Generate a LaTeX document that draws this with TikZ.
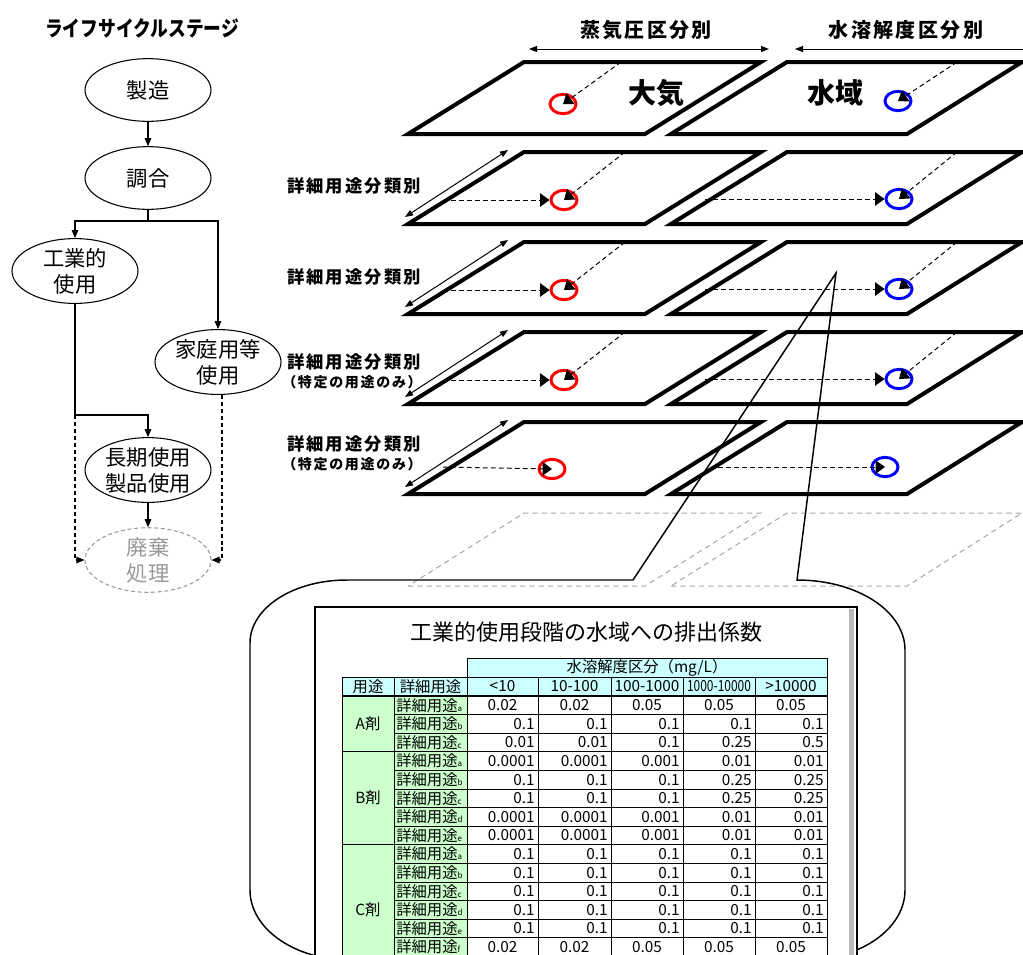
\documentclass[tikz,border=0pt]{standalone}
\usepackage{fontspec}
\setmainfont{Noto Sans CJK JP}
\newfontfamily\jpsp{Noto Sans CJK JP}[LetterSpace=12]
\usetikzlibrary{shapes.geometric,arrows.meta}
\definecolor{hdrc}{HTML}{CCFFFF}
\definecolor{grnc}{HTML}{CCFFCC}
\definecolor{ghostc}{HTML}{A6A6A6}
\definecolor{wastec}{HTML}{999999}
\newcommand\myfs[2]{\fontsize{#1}{#2}\selectfont}
\begin{document}
\begin{tikzpicture}[x=0.75pt,y=-0.75pt,
  stage/.style={ellipse, draw, line width=0.8pt, minimum width=94.5pt, minimum height=47pt, inner sep=0pt, align=center, font=\myfs{16}{19.5}},
  flow/.style={line width=0.8pt, -{Triangle[length=6pt,width=5pt]}},
  flowd/.style={flow, dash pattern=on 3pt off 2.2pt},
  plane/.style={line width=3pt, line join=miter},
  ghost/.style={draw=ghostc, line width=0.75pt, dash pattern=on 4pt off 3pt},
  ring/.style={ellipse, draw, line width=2.2pt, minimum width=19.5pt, minimum height=14.5pt, inner sep=0pt},
  darr/.style={line width=0.75pt, dash pattern=on 3.5pt off 2.5pt, -{Triangle[length=7pt,width=10pt]}},
  dbl/.style={line width=0.75pt, {Triangle[length=6pt,width=4.5pt]}-{Triangle[length=6pt,width=4.5pt]}},
  lbl/.style={font=\jpsp\bfseries\myfs{13}{15}, inner sep=0pt},
  sublbl/.style={font=\jpsp\bfseries\myfs{10.5}{12}, inner sep=0pt},
  big/.style={font=\bfseries\myfs{21}{24}, inner sep=0pt},
  head/.style={font=\jpsp\bfseries\myfs{15}{17}, inner sep=0pt},
  tline/.style={line width=0.75pt},
  tx/.style={font=\myfs{11.5}{13}, inner sep=0pt},
  callout/.style={line width=1.1pt, line join=miter}
]
\useasboundingbox (0,0) rectangle (1023,954);

% ---------------- life cycle flow ----------------
\node[font=\bfseries\myfs{16}{18}, inner sep=0pt] (ttl) at (142,28) {\scalebox{0.83}[1]{ライフサイクルステージ}};
\node[stage] (mfg) at (148,90) {製造};
\node[stage] (mix) at (148,178) {調合};
\node[stage] (ind) at (75,271) {工業的\\使用};
\node[stage] (home) at (218,362) {家庭用等\\使用};
\node[stage] (long) at (148,470) {長期使用\\製品使用};
\node[stage, draw=wastec, dash pattern=on 3pt off 2pt, text=wastec] (waste) at (148,560) {廃棄\\処理};

\coordinate (sp) at (148,221);
\coordinate (kink) at (75,415);
\draw[flow] (mfg) -- (mix);
\draw[line width=0.8pt] (mix.south) -- (sp);
\draw[flow] (sp) -| (ind.north);
\draw[flow] (sp) -| (home.north);
\draw[flow] (ind.south) -- (kink) -| (long.north);
\draw[flowd] (kink) |- (waste.west);
\draw[flowd] ([xshift=3pt]home.south) |- (waste.east);
\draw[flow] (long) -- (waste);

% ---------------- planes ----------------
\node[head] (hv) at (646,30) {蒸気圧区分別};
\node[head] (hw) at (906,30) {水溶解度区分別};
\coordinate (av1) at (529,49);
\coordinate (av2) at (769,49);
\coordinate (aw1) at (795,49);
\coordinate (aw2) at (1030,49);
\draw[dbl] (av1) -- (av2);
\draw[line width=0.75pt, {Triangle[length=6pt,width=4.5pt]}-] (aw1) -- (aw2);

\foreach \ty in {62,152,242,332,422} {
  \draw[plane] (408,{\ty+72}) -- (645,{\ty+72}) -- (761,\ty) -- (524,\ty) -- cycle;
  \draw[plane] (671,{\ty+72}) -- (907,{\ty+72}) -- (1022,\ty) -- (787,\ty) -- cycle;
}
\draw[ghost] (408,586) -- (645,586) -- (761,513) -- (524,513) -- cycle;
\draw[ghost] (671,586) -- (907,586) -- (1022,513) -- (787,513) -- cycle;

\node[big] (air) at (656,93) {大気};
\node[big] (water) at (835,93) {水域};

% row 1
\node[ring, draw=red] (rL1) at (563,104) {};
\node[ring, draw=blue] (rR1) at (898,101) {};
\coordinate (sL1) at (621,62);
\coordinate (sR1) at (957,62);
\draw[darr] (sL1) -- (rL1.center);
\draw[darr] (sR1) -- (rR1.center);

% rows 2-4
\foreach \n/\ty in {2/152,3/242,4/332} {
  \node[ring, draw=red] (rL\n) at (564,{\ty+48}) {};
  \node[ring, draw=blue] (rR\n) at (899,{\ty+47}) {};
  \coordinate (hL\n) at (443,{\ty+48});
  \coordinate (hR\n) at (705,{\ty+47});
  \coordinate (sL\n) at (625,\ty);
  \coordinate (sR\n) at (957,\ty);
  \draw[darr] (hL\n) -- (rL\n.west);
  \draw[darr] (hR\n) -- (rR\n.west);
  \draw[darr] (sL\n) -- (rL\n.center);
  \draw[darr] (sR\n) -- (rR\n.center);
}
% row 5
\node[ring, draw=red] (rL5) at (552,469) {};
\node[ring, draw=blue] (rR5) at (885,467) {};
\coordinate (hL5) at (443,467);
\coordinate (hR5) at (710,467);
\draw[darr] (hL5) -- (rL5.center);
\draw[darr] (hR5) -- (rR5.center);

% left double arrows
\foreach \n/\ty in {2/152,3/242,4/332,5/422} {
  \coordinate (eA\n) at (405,{\ty+65});
  \coordinate (eB\n) at (508,{\ty-2});
  \draw[dbl] (eA\n) -- (eB\n);
}
\node[lbl] (d2) at (354,186) {詳細用途分類別};
\node[lbl] (d3) at (354,277) {詳細用途分類別};
\node[lbl] (d4) at (354,362) {詳細用途分類別};
\node[sublbl] (d4s) at (352,382) {（特定の用途のみ）};
\node[lbl] (d5) at (354,444) {詳細用途分類別};
\node[sublbl] (d5s) at (352,464) {（特定の用途のみ）};

% ---------------- callout ----------------
\coordinate (apex) at (836,273);
\draw[callout] (apex) -- (797,580) .. controls (857,580) and (905,611) .. (905,650)
  -- (905,890) .. controls (905,929) and (860,960) .. (805,960)
  -- (350,960) .. controls (295,960) and (250,929) .. (250,890)
  -- (250,643) .. controls (250,608) and (293,580) .. (347,580)
  -- (633,580) -- cycle;

% window
\draw[fill=white, line width=1.5pt] (315,607) rectangle (857,990);
\fill[gray!55] (849,609) rectangle (854,990);
\node[font=\myfs{16.5}{18}, inner sep=0pt] (ttitle) at (586,632) {工業的使用段階の水域への排出係数};

% table
\fill[hdrc] (467,658) rectangle (827,677);
\fill[hdrc] (342,677) rectangle (827,696);
\fill[grnc] (342,696) rectangle (467,975);
\draw[tline] (467,658) rectangle (827,677);
\draw[tline] (342,677) -- (827,677);
\foreach \xx in {342,394,467,538,611,683,755,827} \draw[tline] (\xx,677) -- (\xx,975);
\foreach \k in {1,2,4,5,6,7,9,10,11,12,13,14} \draw[tline] (394,{696+18.6*\k}) -- (827,{696+18.6*\k});
\foreach \k in {3,8} \draw[tline] (342,{696+18.6*\k}) -- (827,{696+18.6*\k});
\draw[line width=1.5pt] (342,696) -- (827,696);

\node[tx] (hq) at (647,667.5) {水溶解度区分（mg/L）};
\node[tx] (hu) at (368,686.5) {用途};
\node[tx] (hd) at (430.5,686.5) {詳細用途};
\node[tx] (hc1) at (502.5,686.5) {<10};
\node[tx] (hc2) at (574.5,686.5) {10-100};
\node[tx] (hc3) at (647,686.5) {100-1000};
\node[tx] (hc4) at (719,686.5) {\scalebox{0.78}[1]{1000-10000}};
\node[tx] (hc5) at (791,686.5) {>10000};

\node[tx] (gA) at (368,724) {A剤};
\node[tx] (gB) at (368,798) {B剤};
\node[tx] (gC) at (368,910) {C剤};

\foreach \i/\s in {0/a,13/f} {
  \pgfmathsetmacro\yy{696+18.6*(\i+0.5)}
  \node[tx,anchor=west] (du\i) at (396,\yy) {詳細用途{\myfs{6}{6}\s}};
  \node[tx] (va\i) at (502.5,\yy) {0.02};
  \node[tx] (vb\i) at (574.5,\yy) {0.02};
  \node[tx] (vc\i) at (647,\yy) {0.05};
  \node[tx] (vd\i) at (719,\yy) {0.05};
  \node[tx] (ve\i) at (791,\yy) {0.05};
}
\foreach \i/\s/\va/\vb/\vc/\vd/\ve in {
  1/b/0.1/0.1/0.1/0.1/0.1,
  2/c/0.01/0.01/0.1/0.25/0.5,
  3/a/0.0001/0.0001/0.001/0.01/0.01,
  4/b/0.1/0.1/0.1/0.25/0.25,
  5/c/0.1/0.1/0.1/0.25/0.25,
  6/d/0.0001/0.0001/0.001/0.01/0.01,
  7/e/0.0001/0.0001/0.001/0.01/0.01,
  8/a/0.1/0.1/0.1/0.1/0.1,
  9/b/0.1/0.1/0.1/0.1/0.1,
  10/c/0.1/0.1/0.1/0.1/0.1,
  11/d/0.1/0.1/0.1/0.1/0.1,
  12/e/0.1/0.1/0.1/0.1/0.1} {
  \pgfmathsetmacro\yy{696+18.6*(\i+0.5)}
  \node[tx,anchor=west] (du\i) at (396,\yy) {詳細用途{\myfs{6}{6}\s}};
  \node[tx,anchor=east] (va\i) at (535,\yy) {\va};
  \node[tx,anchor=east] (vb\i) at (608,\yy) {\vb};
  \node[tx,anchor=east] (vc\i) at (680,\yy) {\vc};
  \node[tx,anchor=east] (vd\i) at (752,\yy) {\vd};
  \node[tx,anchor=east] (ve\i) at (824,\yy) {\ve};
}
\end{tikzpicture}
\end{document}
